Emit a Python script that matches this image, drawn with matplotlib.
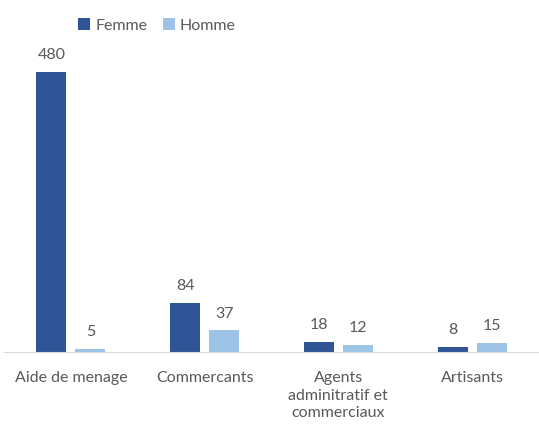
import matplotlib
matplotlib.use("Agg")
import matplotlib.pyplot as plt
import numpy as np

# ─── Data ────────────────────────────────────────────────────────────────────
categories = ["Aide de menage", "Commercants", "Agents\nadminitratif et\ncommerciaux", "Artisants"]
femme = [480, 84, 18, 8]
homme = [5, 37, 12, 15]

DARK = "#2F5597"
LIGHT = "#9DC3E6"
GREY = "#595959"

plt.rcParams["font.family"] = ["Lato", "DejaVu Sans"]

fig = plt.figure(figsize=(5.39, 4.25), dpi=100)
# axes placed so the baseline sits near the bottom third of the figure
ax = fig.add_axes([4 / 539, 1 - 352 / 425, 535 / 539, 350 / 425])

x = np.arange(len(categories))
w = 0.224
off = 0.146
b1 = ax.bar(x - off, femme, w, color=DARK, label="Femme")
b2 = ax.bar(x + off, homme, w, color=LIGHT, label="Homme")

for bars in (b1, b2):
    for r in bars:
        ax.text(r.get_x() + r.get_width() / 2, r.get_height() + 17, f"{int(r.get_height())}",
                ha="center", va="bottom", fontsize=11.5, color=GREY)

ax.set_xlim(-0.5, len(categories) - 0.5)
ax.set_ylim(0, 600)
ax.set_yticks([])
ax.set_xticks(x)
ax.set_xticklabels(categories, fontsize=11.5, color=GREY, linespacing=1.3)
ax.tick_params(axis="x", length=0, pad=14)
for s in ("top", "right", "left"):
    ax.spines[s].set_visible(False)
ax.spines["bottom"].set_color("#D9D9D9")

fig.legend(loc="upper left", bbox_to_anchor=(64 / 539, 1 - 4 / 425), ncol=2, frameon=False,
           fontsize=11.5, handlelength=0.75, handleheight=0.75, handletextpad=0.3,
           columnspacing=1.0, labelcolor=GREY)

fig.savefig("out.png", dpi=100)
